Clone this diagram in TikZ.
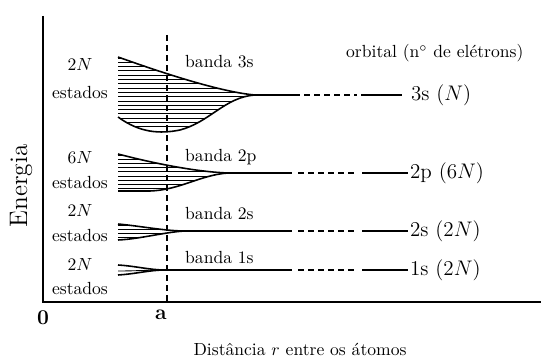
\documentclass[tikz,border=0pt]{standalone}
\usepackage{tikz}

\begin{document}
\begin{tikzpicture}[x=0.02cm, y=-0.02cm,
  banda/.style={line width=0.9pt},
  hachura/.style={line width=0.5pt},
  nivel/.style={line width=0.9pt},
  tracos/.style={line width=0.9pt, dash pattern=on 3.4pt off 2.3pt},
  rot/.style={anchor=west, inner sep=1pt, font=\large}]
\useasboundingbox (0,0) rectangle (544,361);

% eixos
\draw[line width=0.9pt] (43,16) -- (43,302) -- (541,302);
\node[font=\large\bfseries] (zero) at (43,318) {0};
\node[font=\large\bfseries] (a) at (161,315) {a};
\draw[tracos, line width=0.7pt] (167,35) -- (167,302);
\node (eixox) at (300,349) {Dist\^ancia $r$ entre os \'atomos};
\node[rotate=90, font=\Large] (eixoy) at (21,186) {Energia};
\node[anchor=west] (orb) at (340,53) {orbital (n$^\circ$ de el\'etrons)};

% banda 3s
\begin{scope}
\clip (118,57) .. controls (160,72) and (220,92) .. (255,95) .. controls (225,97) and (210,122) .. (180,130) .. controls (160,134) and (140,133) .. (118,117) -- cycle;
\foreach \y in {58,62.3,...,135} \draw[hachura] (110,\y) -- (260,\y);
\end{scope}
\draw[banda] (118,57) .. controls (160,72) and (220,92) .. (255,95);
\draw[banda] (118,117) .. controls (140,133) and (160,134) .. (180,130) .. controls (210,122) and (225,97) .. (255,95);
\node (q3s) at (80,64) {2$N$};
\node (e3s) at (80,93) {estados};
\node[anchor=west] (b3s) at (179,62) {banda 3s};
\node[rot] (n3s) at (409,95) {3s ($N$)};
\draw[nivel] (250,95) -- (300,95);
\draw[tracos] (304,95) -- (357,95);
\draw[nivel, shorten >=4pt] (361,95) -- (n3s.west);

% banda 2p
\begin{scope}
\clip (118,154) .. controls (160,165) and (200,172) .. (228,173) .. controls (200,175) and (180,190) .. (150,191) -- (118,191) -- cycle;
\foreach \y in {155,159.2,...,192} \draw[hachura] (110,\y) -- (235,\y);
\end{scope}
\draw[banda] (118,154) .. controls (160,165) and (200,172) .. (228,173);
\draw[banda] (118,191) -- (150,191) .. controls (180,190) and (200,175) .. (228,173);
\node (q2p) at (80,158) {6$N$};
\node (e2p) at (80,183) {estados};
\node[anchor=west] (b2p) at (179,157) {banda 2p};
\node[rot] (n2p) at (408,173) {2p (6$N$)};
\draw[nivel] (225,173) -- (292,173);
\draw[tracos] (298,173) -- (357,173);
\draw[nivel] (362,173) -- (n2p.west);

% banda 2s
\begin{scope}
\clip (118,224) .. controls (140,226) and (165,231) .. (185,231) .. controls (165,232) and (140,239) .. (118,240) -- cycle;
\foreach \y in {225,229,...,241} \draw[hachura] (110,\y) -- (190,\y);
\end{scope}
\draw[banda] (118,224) .. controls (140,226) and (165,231) .. (185,231);
\draw[banda] (118,240) .. controls (140,239) and (165,232) .. (185,231);
\node (q2s) at (80,210) {2$N$};
\node (e2s) at (80,235) {estados};
\node[anchor=west] (b2s) at (179,213) {banda 2s};
\node[rot] (n2s) at (408,231) {2s (2$N$)};
\draw[nivel] (185,231) -- (292,231);
\draw[tracos] (298,231) -- (357,231);
\draw[nivel] (362,231) -- (n2s.west);

% banda 1s
\draw[banda] (118,265) .. controls (135,266) and (150,270) .. (165,270);
\draw[hachura] (118,271) .. controls (135,271) and (150,270) .. (165,270);
\draw[banda] (118,275) .. controls (135,274) and (150,270) .. (165,270);
\node (q1s) at (80,264) {2$N$};
\node (e1s) at (80,288) {estados};
\node[anchor=west] (b1s) at (179,257) {banda 1s};
\node[rot] (n1s) at (408,270) {1s (2$N$)};
\draw[nivel] (165,270) -- (292,270);
\draw[tracos] (298,270) -- (357,270);
\draw[nivel] (362,270) -- (n1s.west);
\end{tikzpicture}
\end{document}
